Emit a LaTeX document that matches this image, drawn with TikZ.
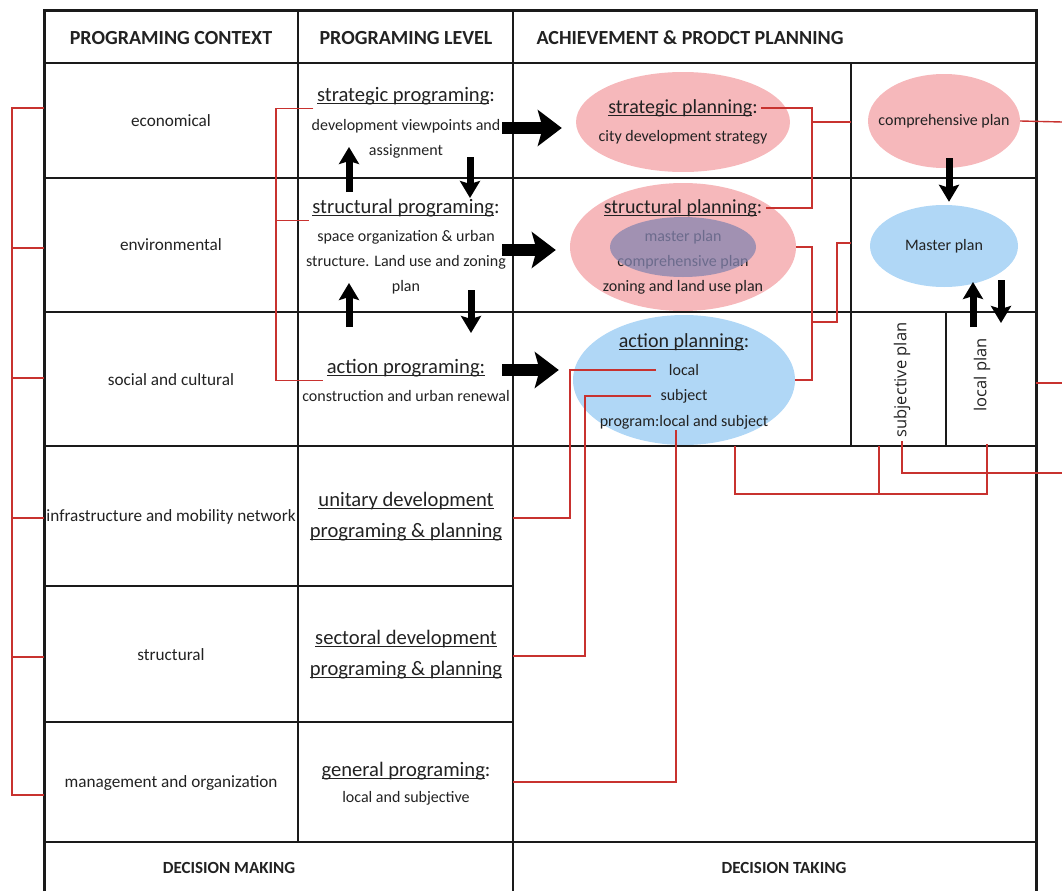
\documentclass[tikz,border=0pt]{standalone}
\usepackage{fontspec}
\setmainfont{Carlito}
\newfontfamily\sidefont{Open Sans}
\usetikzlibrary{arrows.meta,calc,shapes.geometric}
\definecolor{PlanPink}{HTML}{F6B8BB}
\definecolor{PlanBlue}{HTML}{B0D7F6}
\definecolor{PlanViolet}{HTML}{8584B0}
\definecolor{LinkRed}{HTML}{C8322F}
\definecolor{GridInk}{HTML}{1A1A1A}
\definecolor{TextInk}{HTML}{222222}
\newsavebox\ulbox
\newcommand\uln[1]{\sbox\ulbox{#1}\rlap{\rule[-2.6pt]{\wd\ulbox}{1.1pt}}\usebox\ulbox}
\tikzset{
  gridline/.style={draw=GridInk, line width=2pt},
  outerline/.style={draw=GridInk, line width=3pt},
  heading/.style={font=\fontsize{20}{23}\selectfont\bfseries, text=TextInk},
  decision/.style={font=\fontsize{17}{20}\selectfont\bfseries, text=TextInk},
  context/.style={font=\fontsize{17.2}{20}\selectfont, text=TextInk},
  leveltitle/.style={font=\fontsize{20.6}{31}\selectfont, text=TextInk, align=center},
  leveltext/.style={font=\fontsize{16}{25}\selectfont, text=TextInk, align=center},
  plantitle/.style={font=\fontsize{20}{23}\selectfont, text=TextInk},
  plantext/.style={font=\fontsize{16}{18}\selectfont, text=TextInk, inner sep=1pt},
  pinkplan/.style={ellipse, fill=PlanPink, draw=none, inner sep=0pt},
  blueplan/.style={ellipse, fill=PlanBlue, draw=none, inner sep=0pt},
  sideplan/.style={font=\sidefont\fontsize{16.5}{18}\selectfont, text=TextInk, rotate=90},
  link/.style={draw=LinkRed, line width=1.4pt},
  bigarrow/.style={-{Stealth[length=24pt,width=36pt,inset=5pt]}, line width=12pt,
    draw=black, shorten >=14pt},
  smallarrow/.style={-{Stealth[length=17pt,width=20pt,inset=3pt]}, line width=7pt, draw=black}
}

\begin{document}
\begin{tikzpicture}[x=1pt, y=-1pt]
  \useasboundingbox (0,0) rectangle (1062,891);

  % planning ellipses
  \node[pinkplan, minimum width=214pt, minimum height=100pt] (strplan) at (683,122) {};
  \node[pinkplan, minimum width=226pt, minimum height=128pt] (stplan) at (683,247) {};
  \node[blueplan, minimum width=222pt, minimum height=130pt] (acplan) at (684,380) {};
  \node[pinkplan, minimum width=152pt, minimum height=94pt] (compplan) at (944,121) {};
  \node[blueplan, plantext, minimum width=148pt, minimum height=82pt] (masterplan) at (944,246) {Master plan};

  % table
  \draw[gridline] (44,63) -- (1036,63) (44,178) -- (1036,178) (44,312) -- (1036,312)
    (44,446) -- (1036,446) (44,586) -- (513,586) (44,722) -- (513,722) (44,842) -- (1036,842);
  \draw[gridline] (298,11) -- (298,842) (513,11) -- (513,891) (851,63) -- (851,446)
    (946,312) -- (946,446);
  \draw[outerline] (44,891) -- (44,11) -- (1036,11) -- (1036,891);

  % headings
  \node[heading] (hctx) at (171,38) {PROGRAMING CONTEXT};
  \node[heading] (hlvl) at (406,38) {PROGRAMING LEVEL};
  \node[heading, anchor=west] (hach) at (533,38) {ACHIEVEMENT \& PRODCT PLANNING};
  \node[decision] (dmaking) at (229,868) {DECISION MAKING};
  \node[decision] (dtaking) at (784,868) {DECISION TAKING};

  % programing context
  \node[context] (econ) at (171,121) {economical};
  \node[context] (env) at (171,245) {environmental};
  \node[context] (social) at (171,380) {social and cultural};
  \node[context] (infra) at (171,517) {infrastructure and mobility network};
  \node[context] (struct) at (171,655) {structural};
  \node[context] (mgmt) at (171,783) {management and organization};

  % programing level
  \node[leveltitle] (sprog) at (406,96) {\uln{strategic programing}:};
  \node[leveltext] (sprogtxt) at (406,139) {development viewpoints and\\assignment};
  \node[leveltitle] (stprog) at (406,208) {\uln{structural programing}:};
  \node[leveltext] (stprogtxt) at (406,262) {space organization \& urban\\structure. Land use and zoning\\plan};
  \node[leveltitle] (acprog) at (406,368) {\uln{action programing:}};
  \node[leveltext] (acprogtxt) at (406,396) {construction and urban renewal};
  \node[leveltitle] (unitary) at (406,517) {\uln{unitary development}\\\uln{programing \& planning}};
  \node[leveltitle] (sectoral) at (406,655) {\uln{sectoral development}\\\uln{programing \& planning}};
  \node[leveltitle] (genprog) at (406,771) {\uln{general programing}:};
  \node[leveltext] (genprogtxt) at (406,798) {local and subjective};

  % planning texts
  \node[plantitle] (strplantitle) at (683,108) {\uln{strategic planning}:};
  \node[plantext] (strplantxt) at (683,137) {city development strategy};
  \node[plantitle] (stplantitle) at (683,208) {\uln{structural planning}:};
  \node[plantext] (mplan) at (683,237) {master plan};
  \node[plantext] (cplan) at (683,262) {comprehensive plan};
  \node[plantext] (zplan) at (683,287) {zoning and land use plan};
  \node[ellipse, fill=PlanViolet, fill opacity=0.75, inner sep=0pt,
    minimum width=146pt, minimum height=60pt] (innerplan) at (683,247) {};
  \node[plantitle] (acplantitle) at (684,342) {\uln{action planning}:};
  \node[plantext] (alocal) at (684,370) {local};
  \node[plantext] (asubj) at (684,396) {subject};
  \node[plantext] (aprog) at (684,422) {program:local and subject};
  \node[plantext] (comptxt) at (944,121) {comprehensive plan};
  \node[sideplan] (subjplan) at (902,380) {subjective plan};
  \node[sideplan] (localplan) at (982,375) {local plan};

  % red links
  \coordinate (jTop) at (812,122);
  \coordinate (compL) at (851,122);
  \coordinate (outTop) at (1062,122);
  \coordinate (jMid) at (812,322);
  \coordinate (jMid2) at (837,322);
  \coordinate (masterL) at (851,243);
  \coordinate (tblR) at (1036,383);
  \coordinate (outMid) at (1062,383);
  \coordinate (outLow) at (1062,473);
  \coordinate (kLocal) at (570,518);
  \coordinate (unitL) at (513,518);
  \coordinate (kSubj) at (585,656);
  \coordinate (sectL) at (513,656);
  \coordinate (genL) at (513,782);
  \coordinate (acB) at (735,446);
  \coordinate (sjB) at (879,446);
  \coordinate (lcB) at (987,444);
  \coordinate (kLow) at (987,494);
  \draw[link] (strplantitle.east) -| (jTop) |- (stplantitle.east);
  \draw[link] (jTop) -- (compL);
  \draw[link] (compplan.east) -- (outTop);
  \draw[link] (stplan.east) -| (jMid) |- (acplan.east);
  \draw[link] (masterL) -| (jMid2) -- (jMid);
  \draw[link] ([xshift=-12pt]alocal.west) -| (kLocal) -- (unitL);
  \draw[link] ([xshift=-8pt]asubj.west) -| (kSubj) -- (sectL);
  \draw[link] ([xshift=-8pt]aprog.south) |- (genL);
  \draw[link] (acB) |- (kLow) -- (lcB);
  \draw[link] (sjB) -- (sjB |- kLow);
  \draw[link] (subjplan.west) |- (outLow);
  \draw[link] (tblR) -- (outMid);

  % context bracket
  \foreach \y [count=\i] in {108,248,378,518,657,795}
    \coordinate (ctx\i) at (44,\y);
  \coordinate (ctxbar) at (12,0);
  \draw[link] (ctx1) -- (ctx1 -| ctxbar) |- (ctx6);
  \foreach \i in {2,...,5}
    \draw[link] (ctx\i) -- (ctx\i -| ctxbar);

  % level bracket
  \coordinate (lvlbar) at (276,0);
  \draw[link] (sprog.south west) -- (sprog.south west -| lvlbar) |- (acprog.south west);
  \draw[link] (stprog.south west) -- (stprog.south west -| lvlbar);

  % black arrows
  \foreach \n/\y/\target in {a1/128/strplan, a2/250/stplan, a3/370/acplan} {
    \coordinate (\n) at (502,\y);
    \draw[bigarrow] (\n) -- (\n -| \target.west);
  }
  \foreach \n/\x/\ya/\yb in {up1/349/192/147, dn1/470/157/198, up2/349/327/283,
      dn2/471/290/333, up3/973/327/282, dn3/1001/280/323} {
    \coordinate (\n-s) at (\x,\ya);
    \coordinate (\n-e) at (\x,\yb);
    \draw[smallarrow] (\n-s) -- (\n-e);
  }
  \draw[smallarrow] ([xshift=5pt,yshift=10pt]compplan.south) -- ([xshift=5pt,yshift=3pt]masterplan.north);
\end{tikzpicture}
\end{document}
